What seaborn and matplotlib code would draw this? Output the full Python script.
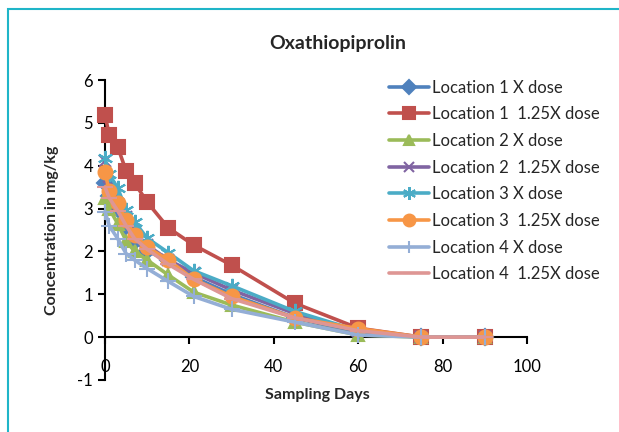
import matplotlib
matplotlib.use("Agg")
import matplotlib.pyplot as plt
import seaborn as sns
import pandas as pd
from matplotlib.patches import Rectangle

days = [0, 1, 3, 5, 7, 10, 15, 21, 30, 45, 60, 75, 90]
series_names = ["Location 1 X dose", "Location 1  1.25X dose", "Location 2 X dose",
                "Location 2  1.25X dose", "Location 3 X dose", "Location 3  1.25X dose",
                "Location 4 X dose", "Location 4  1.25X dose"]
loc1_x = [3.6, 3.3, 3.0, 2.6, 2.25, 2.0, 1.8, 1.4, 1.0, 0.45, 0.1, 0, 0]
loc1_125 = [5.18, 4.72, 4.44, 3.88, 3.6, 3.15, 2.55, 2.15, 1.68, 0.79, 0.21, 0, 0]
loc2_x = [3.25, 3.0, 2.65, 2.25, 2.0, 1.8, 1.45, 1.05, 0.75, 0.35, 0.05, 0, 0]
loc2_125 = [4.12, 3.5, 3.1, 2.8, 2.45, 2.15, 1.8, 1.5, 1.1, 0.55, 0.15, 0, 0]
loc3_x = [4.18, 3.8, 3.48, 2.97, 2.69, 2.31, 1.97, 1.55, 1.2, 0.6, 0.15, 0, 0]
loc3_125 = [3.86, 3.4, 3.12, 2.73, 2.38, 2.1, 1.8, 1.35, 0.95, 0.45, 0.2, 0, 0]
loc4_x = [2.93, 2.6, 2.3, 1.95, 1.8, 1.6, 1.3, 0.95, 0.65, 0.35, 0.05, 0, 0]
loc4_125 = [3.5, 3.25, 2.95, 2.6, 2.3, 2.05, 1.7, 1.35, 0.9, 0.45, 0.15, 0, 0]
values = [loc1_x, loc1_125, loc2_x, loc2_125, loc3_x, loc3_125, loc4_x, loc4_125]

colors = ["#4F81BD", "#C0504D", "#9BBB59", "#8064A2", "#4BACC6", "#F79646", "#94AED6", "#DE9694"]
markers = ["D", "s", "^", "x", (6, 2, 0), "o", "+", "_"]
msizes = [8, 10, 9, 9, 11, 10, 11, 11]

rows = []
for name, vals in zip(series_names, values):
    for d, v in zip(days, vals):
        rows.append({"Sampling Days": d, "value": v, "series": name})
df = pd.DataFrame(rows)

sns.set_theme(style="white")
plt.rcParams["font.family"] = ["Lato", "DejaVu Sans"]
plt.rcParams["axes.unicode_minus"] = False

fig = plt.figure(figsize=(6.19, 4.32), dpi=100)
ax = fig.add_axes([105 / 619, 1 - 380 / 432, 422 / 619, 300 / 432])

for i, name in enumerate(series_names):
    sub = df[df["series"] == name]
    sns.lineplot(data=sub, x="Sampling Days", y="value", ax=ax, color=colors[i],
                 marker=markers[i], markersize=msizes[i], linewidth=2.6,
                 markeredgecolor=colors[i], markeredgewidth=1.5, label=name,
                 clip_on=False, zorder=3 + i)

ax.set_xlim(0, 100)
ax.set_ylim(-1, 6)
ax.set_xticks([0, 20, 40, 60, 80, 100])
ax.set_yticks(range(-1, 7))
ax.spines["bottom"].set_position(("data", 0))
ax.spines["right"].set_visible(False)
ax.spines["top"].set_visible(False)
for s in ["left", "bottom"]:
    ax.spines[s].set_color("black")
    ax.spines[s].set_linewidth(1.5)
    ax.spines[s].set_zorder(2)
ax.tick_params(axis="both", direction="out", length=5, width=1.5, color="black",
               labelsize=12, labelcolor="black", bottom=True, left=True)
ax.tick_params(axis="x", pad=11)
ax.set_xlabel("")
ax.set_ylabel("")
ax.grid(False)

fig.text(338 / 619, 1 - 43 / 432, "Oxathiopiprolin", ha="center", va="center",
         fontsize=14, fontweight="bold")
fig.text(317 / 619, 1 - 395 / 432, "Sampling Days", ha="center", va="center",
         fontsize=11.5, fontweight="bold")
fig.text(52 / 619, 1 - 230 / 432, "Concentration in mg/kg", ha="center", va="center",
         fontsize=11.5, fontweight="bold", rotation=90)

leg = ax.legend(loc="upper left", bbox_to_anchor=(382 / 619, 1 - 73 / 432),
                bbox_transform=fig.transFigure, frameon=False, fontsize=12,
                handlelength=2.4, handletextpad=0.2, labelspacing=0.64,
                borderaxespad=0, markerscale=0.85)

fig.patches.append(Rectangle((8 / 619, -0.05), 1.1, 1 - 9 / 432 + 0.05,
                             transform=fig.transFigure, fill=False,
                             edgecolor="#1FB5C8", linewidth=1.5))

fig.savefig("out.png", dpi=100, facecolor="white")
